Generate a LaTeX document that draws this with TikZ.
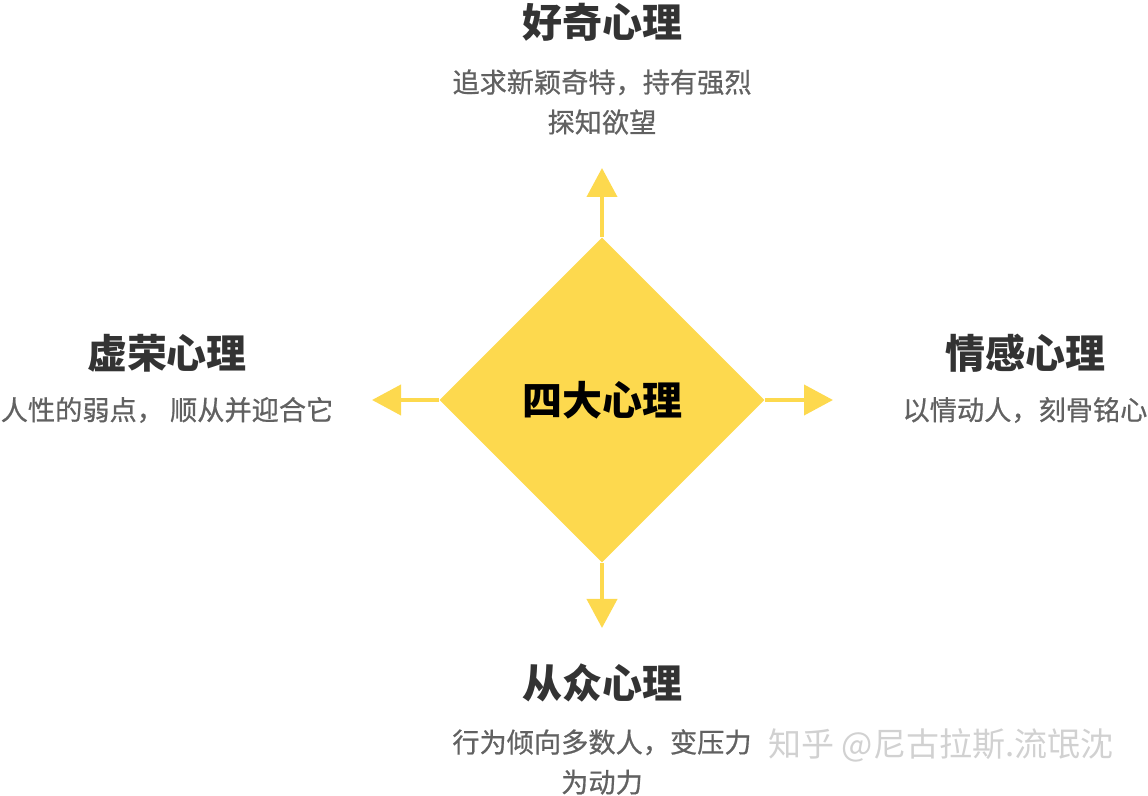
\documentclass[tikz,border=0pt]{standalone}
\usepackage{fontspec}
\setmainfont{Noto Sans CJK SC}
\newfontfamily\subfont[FakeBold=0.7]{Noto Sans CJK SC}
\usepackage{tikz}
\usetikzlibrary{arrows.meta,positioning,shapes.geometric}
\usepackage{xcolor}
\definecolor{mindyellow}{HTML}{FDD94E}
\definecolor{titlegray}{HTML}{333333}
\definecolor{subgray}{HTML}{616161}

\begin{document}
\begin{tikzpicture}[x=0.5pt,y=-0.5pt,every node/.style={align=center,inner sep=0pt},core/.style={diamond,aspect=1,fill=mindyellow,minimum width=162.5pt,minimum height=162.5pt,font=\bfseries\fontsize{20}{22}\selectfont,text=black},title/.style={font=\bfseries\fontsize{20}{22}\selectfont,text=titlegray},sub/.style={font=\subfont\fontsize{13.6}{20}\selectfont,text=subgray},arrow/.style={-{Triangle[width=15pt,length=14.5pt]},line width=2pt,draw=mindyellow}]
\useasboundingbox (0,0) rectangle (1148,796);
\node[core] (core) at (602,400) {四大心理};
\coordinate (up) at (602,168); \coordinate (down) at (602,628); \coordinate (left) at (372,400); \coordinate (right) at (833,400);
\draw[arrow] (core.north) -- (up); \draw[arrow] (core.south) -- (down); \draw[arrow] (core.west) -- (left); \draw[arrow] (core.east) -- (right);
\node[title] (curious) at (602,22) {好奇心理}; \node[sub] (curiousdesc) at (602,102) {追求新颖奇特，持有强烈\\探知欲望};
\node[title] (vanity) at (167,353) {虚荣心理}; \node[sub] (vanitydesc) at (167,410) {人性的弱点， 顺从并迎合它};
\node[title] (emotion) at (1025,353) {情感心理}; \node[sub] (emotiondesc) at (1025,410) {以情动人，刻骨铭心};
\node[title] (herd) at (602,683) {从众心理}; \node[sub] (herddesc) at (602,762) {行为倾向多数人，变压力\\为动力};
\node[font=\fontsize{16.5}{18}\selectfont,text=black!18] (mark) at (941,745) {知乎 @尼古拉斯.流氓沈};
\end{tikzpicture}
\end{document}
